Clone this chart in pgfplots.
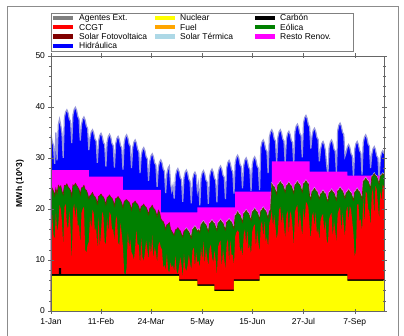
\documentclass[border=0pt]{standalone}
\usepackage{fontspec}
\setmainfont{Liberation Sans}
\usepackage{pgfplots}
\usepackage{pgfplotstable}
\pgfplotsset{compat=1.18}

\definecolor{cNuc}{RGB}{255,255,0}
\definecolor{cCCGT}{RGB}{255,0,0}
\definecolor{cEol}{RGB}{0,128,0}
\definecolor{cFV}{RGB}{128,0,0}
\definecolor{cTerm}{RGB}{173,216,230}
\definecolor{cResto}{RGB}{255,0,255}
\definecolor{cHid}{RGB}{0,0,255}
\definecolor{cExt}{RGB}{128,128,128}
\definecolor{cFuel}{RGB}{255,165,0}
\definecolor{cFringe}{RGB}{150,150,220}
\definecolor{cFVline}{RGB}{105,45,0}

\pgfplotstableread{
d c e h
0 16.5 23.2 34.5
1 18.8 24.0 33.2
2 15.0 23.5 32.5
3 14.0 22.6 28.8
4 19.5 24.0 35.0
5 15.5 23.0 29.5
6 17.0 24.6 36.5
7 20.8 24.2 37.6
8 20.0 24.5 36.4
9 17.5 23.4 34.8
10 12.8 22.8 30.0
11 20.3 24.6 37.9
12 21.0 24.5 39.0
13 17.0 24.9 39.4
14 16.0 24.3 38.8
15 19.5 24.0 37.6
16 16.5 23.6 37.2
17 9.5 22.5 32.9
18 19.8 24.7 38.4
19 21.0 24.5 39.5
20 18.0 25.0 39.9
21 20.5 24.6 39.3
22 16.5 24.2 38.1
23 17.0 23.8 37.6
24 13.0 22.8 33.4
25 19.2 24.1 36.5
26 20.0 24.2 37.6
27 20.4 24.6 38.0
28 12.0 23.8 37.4
29 11.4 23.6 36.2
30 13.0 23.0 35.8
31 13.5 22.0 31.5
32 18.6 22.6 34.0
33 16.0 22.8 35.1
34 19.8 23.2 35.5
35 19.2 22.6 34.9
36 15.5 22.4 33.7
37 16.5 21.9 33.3
38 12.0 21.0 29.0
39 18.4 22.4 33.3
40 12.5 22.6 34.4
41 15.5 22.9 34.8
42 19.4 22.5 34.2
43 18.6 22.3 33.0
44 13.5 21.7 32.6
45 13.0 20.8 28.3
46 18.2 22.2 33.1
47 15.5 22.4 34.2
48 19.4 22.7 34.6
49 18.8 22.3 34.0
50 16.0 22.1 32.8
51 16.0 21.5 32.4
52 13.8 20.6 28.1
53 17.8 22.0 32.7
54 18.6 22.1 33.8
55 13.5 22.4 34.2
56 12.8 22.0 33.6
57 17.2 21.7 32.4
58 15.0 21.1 32.0
59 12.5 20.2 27.7
60 7.5 21.4 33.0
61 6.8 21.7 34.1
62 8.5 21.8 34.5
63 15.5 21.5 33.9
64 12.5 21.3 32.7
65 14.0 20.7 32.3
66 11.5 19.8 28.0
67 11.0 21.1 32.0
68 10.0 21.2 33.1
69 12.5 21.5 33.5
70 15.8 21.1 32.9
71 13.0 20.9 31.7
72 13.0 20.3 31.2
73 9.0 19.5 27.0
74 14.2 20.5 30.5
75 10.5 20.6 31.6
76 9.8 20.9 32.0
77 11.5 20.5 31.4
78 13.8 20.3 30.2
79 12.0 19.7 29.8
80 10.0 18.9 25.5
81 13.6 20.1 29.3
82 11.0 20.3 30.4
83 14.8 20.7 30.8
84 10.2 20.1 30.2
85 12.5 19.9 29.0
86 11.5 19.3 28.6
87 9.5 18.5 24.3
88 13.0 19.7 28.1
89 13.5 19.3 29.2
90 12.5 18.1 29.6
91 12.0 17.7 29.0
92 8.5 17.5 27.8
93 9.0 16.9 27.4
94 8.0 16.0 23.1
95 11.2 16.9 26.9
96 8.0 17.0 28.0
97 7.5 17.3 28.4
98 9.5 16.0 25.0
99 8.5 15.6 23.5
100 9.0 15.2 24.6
101 7.8 14.8 22.0
102 10.8 15.9 26.4
103 7.8 16.0 27.5
104 7.2 16.3 27.9
105 8.8 15.9 27.3
106 10.5 15.7 26.1
107 9.0 15.0 25.7
108 6.5 14.5 21.4
109 11.2 15.6 26.1
110 8.5 15.8 27.2
111 7.8 16.1 27.6
112 9.0 15.8 27.0
113 11.0 15.5 25.8
114 9.5 14.9 25.4
115 8.0 14.3 21.1
116 11.8 15.9 25.7
117 12.4 16.2 26.8
118 8.6 16.5 27.2
119 11.5 16.1 26.6
120 9.5 15.6 23.5
121 9.8 15.9 25.0
122 8.5 15.4 20.7
123 12.5 16.9 26.0
124 10.0 17.2 27.1
125 13.6 17.5 27.5
126 9.0 17.1 26.9
127 12.4 16.9 25.7
128 10.5 16.2 25.3
129 8.8 15.6 21.0
130 12.2 17.1 26.3
131 13.0 17.3 27.4
132 10.5 17.7 27.8
133 9.5 17.3 27.2
134 11.8 17.1 26.0
135 10.0 16.4 25.6
136 7.0 15.8 21.3
137 12.6 17.2 26.9
138 13.4 17.4 28.0
139 13.8 17.8 28.4
140 8.5 17.4 27.8
141 12.2 17.2 26.6
142 10.2 16.5 26.2
143 8.2 15.9 21.9
144 13.2 17.4 28.0
145 14.0 17.6 29.1
146 9.5 17.9 29.5
147 13.8 17.6 28.9
148 11.0 17.4 27.7
149 11.0 16.7 27.3
150 9.0 16.2 23.0
151 14.6 18.7 29.0
152 15.4 18.9 30.1
153 15.8 19.4 30.5
154 15.4 19.0 29.9
155 11.5 18.8 28.7
156 12.5 18.1 28.3
157 10.5 17.4 24.0
158 15.0 19.1 28.5
159 16.0 19.3 29.6
160 13.0 19.7 30.0
161 15.8 19.3 29.4
162 12.0 19.1 28.2
163 13.0 18.4 27.8
164 11.0 17.7 23.5
165 15.6 19.4 28.7
166 16.5 19.6 29.8
167 17.0 20.0 30.2
168 12.5 19.6 29.6
169 15.8 19.4 28.4
170 13.5 18.7 28.0
171 11.5 18.0 23.7
172 16.8 19.6 32.0
173 17.6 19.8 33.1
174 14.5 20.2 33.5
175 17.5 19.8 32.9
176 13.5 19.6 31.7
177 14.5 18.9 31.3
178 12.5 18.2 27.0
179 17.2 19.6 34.0
180 18.0 19.7 35.1
181 19.8 24.9 35.5
182 16.5 24.5 34.9
183 18.8 24.3 33.7
184 16.5 23.6 33.3
185 14.0 22.9 29.0
186 15.5 24.7 34.0
187 19.8 24.9 35.1
188 20.4 25.3 35.5
189 17.0 24.9 34.9
190 19.2 24.7 33.7
191 16.8 24.0 33.3
192 14.2 23.3 29.0
193 18.8 24.5 33.7
194 19.6 24.7 34.8
195 15.0 25.1 35.2
196 19.5 24.7 34.6
197 18.8 24.5 33.4
198 16.5 23.8 33.0
199 12.5 23.1 28.7
200 19.4 24.7 35.1
201 20.2 24.9 36.2
202 20.8 25.3 36.6
203 16.0 24.9 36.0
204 19.5 24.7 34.8
205 17.0 24.0 34.4
206 14.5 23.3 30.1
207 20.0 24.9 36.8
208 17.5 25.1 37.9
209 21.4 25.5 38.3
210 21.0 25.1 37.7
211 20.2 24.9 36.5
212 16.5 22.6 36.1
213 14.0 21.9 31.8
214 18.6 23.4 34.3
215 19.4 23.6 35.4
216 16.5 24.0 35.8
217 19.3 23.6 35.2
218 15.0 23.4 34.0
219 16.2 22.7 33.6
220 13.8 22.0 29.3
221 17.8 22.9 31.7
222 18.6 23.1 32.8
223 19.0 23.5 33.2
224 15.5 23.1 32.6
225 17.6 22.9 31.4
226 14.0 22.0 28.5
227 13.0 21.5 26.7
228 18.0 23.1 32.0
229 18.8 23.3 33.1
230 19.2 23.7 33.5
231 14.5 23.3 32.9
232 17.8 23.1 31.7
233 15.8 22.4 31.3
234 13.5 21.7 27.0
235 19.0 23.5 35.3
236 19.8 23.7 36.4
237 20.4 24.1 36.8
238 15.5 23.7 36.2
239 19.2 23.5 35.0
240 16.8 22.8 34.6
241 14.5 22.1 30.3
242 19.5 23.1 31.1
243 20.5 23.3 32.2
244 17.5 23.7 32.6
245 20.6 23.3 32.0
246 19.8 23.1 30.8
247 17.5 22.4 30.4
248 15.0 21.7 26.1
249 10.5 23.3 31.7
250 12.0 23.5 32.8
251 20.8 23.9 33.2
252 21.0 23.5 32.6
253 17.5 23.3 31.4
254 18.0 22.6 31.0
255 15.5 21.9 26.7
256 22.0 25.4 33.0
257 17.0 25.6 34.1
258 23.4 26.0 34.5
259 23.0 25.6 33.9
260 20.0 25.4 32.7
261 19.5 24.7 32.3
262 16.5 24.0 28.0
263 23.0 26.3 30.7
264 24.0 26.5 31.8
265 18.5 26.9 32.2
266 24.5 26.5 31.6
267 23.8 26.3 30.4
268 21.0 25.6 30.0
269 18.0 24.9 25.7
270 23.5 26.4 29.9
271 21.5 26.6 31.0
272 24.8 26.9 31.4
273 24.2 26.6 30.8
}\daily

\pgfplotstableread{
d v
0 6.9
105 5.9
120 4.9
134 3.9
150 5.9
171 6.9
243 5.9
273 5.9
}\nuc

\pgfplotstableread{
d v
0 7.2
6.5 8.4
8.2 7.2
105 6.2
120 5.2
134 4.2
150 6.2
171 7.2
243 6.2
273 6.2
}\carb

\pgfplotstableread{
d v
0 27.6
31 26.3
59 23.7
90 19.3
120 20.3
151 23.4
181 29.3
212 27.3
243 26.5
273 26.5
}\resto

\newcommand{\legitem}[5]{%
  \draw[#4, line width=4.5pt] (#1pt,#3pt) -- ++(20pt,0pt);
  \node[anchor=west, inner sep=0pt, text height=6pt, text depth=0pt] at (#2pt,#3pt) {#5};}

\begin{document}
\begin{tikzpicture}
\useasboundingbox (-51pt,-24pt) rectangle (353pt,311pt);
\begin{axis}[
  at={(0pt,0pt)}, anchor=south west,
  scale only axis, width=333pt, height=255.3pt,
  xmin=0, xmax=273, ymin=0, ymax=50,
  xtick={0,41,82,124,165,207,249},
  xticklabels={1-Jan,11-Feb,24-Mar,5-May,15-Jun,27-Jul,7-Sep},
  ytick={0,10,20,30,40,50},
  minor x tick num=4, minor y tick num=4,
  tick align=center,
  major tick length=5pt, minor tick length=3pt,
  axis on top,
  axis line style={black!60},
  every tick/.append style={black!60},
  tick label style={font=\fontsize{8.5}{10}\selectfont},
  xticklabel style={yshift=-1.5pt},
  /pgf/number format/assume math mode=true,
  ylabel={\bfseries MWh (10\textasciicircum 3)},
  every axis y label/.style={at={(axis description cs:-0.093,0.5)}, rotate=90, anchor=center, font=\fontsize{8.5}{10}\selectfont},
]
\addplot[fill=cHid, draw=none] table[x=d,y=h]{\daily} \closedcycle;
\addplot[draw=cFringe, line width=1.2pt] table[x=d,y=h]{\daily};
\addplot[fill=cResto, draw=none, const plot] table[x=d,y=v]{\resto} \closedcycle;
\addplot[draw=cTerm, line width=0.9pt, yshift=0.7pt, restrict x to domain=110:273] table[x=d,y=e]{\daily};
\addplot[fill=cEol, draw=none] table[x=d,y=e]{\daily} \closedcycle;
\addplot[draw=cFVline, line width=0.7pt] table[x=d,y=e]{\daily};
\addplot[fill=cCCGT, draw=none] table[x=d,y=c]{\daily} \closedcycle;
\addplot[fill=black, draw=none, const plot] table[x=d,y=v]{\carb} \closedcycle;
\addplot[fill=cNuc, draw=none, const plot] table[x=d,y=v]{\nuc} \closedcycle;
\end{axis}
\begin{scope}[font=\fontsize{8.5}{10}\selectfont]
\draw[black!50, fill=white] (0pt,260pt) rectangle (302pt,298pt);
\legitem{2}{28}{293.2}{cExt}{Agentes Ext.}
\legitem{104}{129}{293.2}{cNuc}{Nuclear}
\legitem{204}{229}{293.2}{black}{Carbón}
\legitem{2}{28}{283.8}{cCCGT}{CCGT}
\legitem{104}{129}{283.8}{cFuel}{Fuel}
\legitem{204}{229}{283.8}{cEol}{Eólica}
\legitem{2}{28}{274.4}{cFV}{Solar Fotovoltaica}
\legitem{104}{129}{274.4}{cTerm}{Solar Térmica}
\legitem{204}{229}{274.4}{cResto}{Resto Renov.}
\legitem{2}{28}{265.0}{cHid}{Hidráulica}
\end{scope}
\draw[black!45] (-44pt,-30pt) -- (-44pt,305pt) -- (347pt,305pt) -- (347pt,-30pt);
\end{tikzpicture}
\end{document}
